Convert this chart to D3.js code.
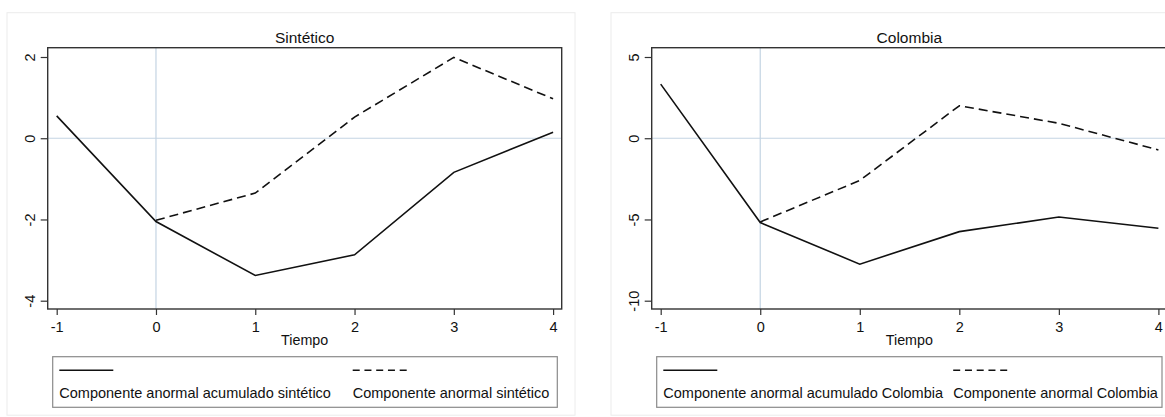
<!DOCTYPE html>
<html>
<head>
<meta charset="utf-8">
<script src="https://cdn.jsdelivr.net/npm/d3@7"></script>
<style>
  body { margin: 0; background: #fff; }
  svg text { font-family: "Liberation Sans", Arial, sans-serif; fill: #111; }
</style>
</head>
<body>
<script>
// data
var tiempo = [-1, 0, 1, 2, 3, 4];

var sintAcum = [0.55, -2.05, -3.38, -2.87, -0.84, 0.15];
var sintComp = [null, -2.02, -1.35, 0.52, 1.99, 0.97];

var colAcum = [3.33, -5.19, -7.75, -5.75, -4.85, -5.54];
var colComp = [null, -5.15, -2.6, 2.0, 0.92, -0.72];

var xTicks = [-1, 0, 1, 2, 3, 4];
var sintTicks = [-4, -2, 0, 2];
var colTicks = [-10, -5, 0, 5];

var titles = ["Sintético", "Colombia"];
var legendLabels = [
  ["Componente anormal acumulado sintético", "Componente anormal sintético"],
  ["Componente anormal acumulado Colombia", "Componente anormal Colombia"]
];

// panel layout
var panels = [
  { left: 0, acum: sintAcum, comp: sintComp, ticks: sintTicks, yDomain: [-4, 2],
    outerW: 568, plotW: 514, legW: 504.6, col2: 300 },
  { left: 604, acum: colAcum, comp: colComp, ticks: colTicks, yDomain: [-10, 5],
    outerW: 600, plotW: 515.3, legW: 505.3, col2: 296.5 }
];

var fmt = function(d) { return String(d); };

var svg = d3.select("body").append("svg")
  .attr("width", 1165)
  .attr("height", 417);

panels.forEach(function(p, i) {
  var g = svg.append("g").attr("transform", "translate(" + p.left + ",0)");

  // outer panel
  g.append("rect")
    .attr("x", 7).attr("y", 12.7)
    .attr("width", p.outerW).attr("height", 402.5)
    .attr("fill", "#fff")
    .attr("stroke", "#ececec");

  var px = 47.7, py = 47.7, ph = 261.3;

  var x = d3.scaleLinear().domain([-1, 4]).range([px + 9, px + p.plotW - 8.6]);
  var y = d3.scaleLinear().domain(p.yDomain).range([300.7, 57]);

  var plot = g.append("g");

  // reference lines
  plot.append("line")
    .attr("x1", px).attr("x2", px + p.plotW)
    .attr("y1", y(0)).attr("y2", y(0))
    .attr("stroke", "#c4d4e3").attr("stroke-width", 1.2);
  plot.append("line")
    .attr("x1", x(0)).attr("x2", x(0))
    .attr("y1", py).attr("y2", py + ph)
    .attr("stroke", "#c4d4e3").attr("stroke-width", 1.2);

  // series
  var line = d3.line()
    .defined(function(d) { return d[1] != null; })
    .x(function(d) { return x(d[0]); })
    .y(function(d) { return y(d[1]); });

  plot.append("path")
    .datum(d3.zip(tiempo, p.acum))
    .attr("d", line)
    .attr("fill", "none")
    .attr("stroke", "#111")
    .attr("stroke-width", 1.6);

  plot.append("path")
    .datum(d3.zip(tiempo, p.comp))
    .attr("d", line)
    .attr("fill", "none")
    .attr("stroke", "#111")
    .attr("stroke-width", 1.6)
    .attr("stroke-dasharray", "9,5");

  // frame
  g.append("rect")
    .attr("x", px).attr("y", py)
    .attr("width", p.plotW).attr("height", ph)
    .attr("fill", "none")
    .attr("stroke", "#333")
    .attr("stroke-width", 1.4);

  // axes
  var yAxis = g.append("g")
    .attr("transform", "translate(" + px + ",0)")
    .call(d3.axisLeft(y).tickValues(p.ticks).tickSize(7).tickFormat(fmt));
  yAxis.select(".domain").remove();
  yAxis.selectAll("line").attr("stroke", "#333").attr("stroke-width", 1.2);
  yAxis.selectAll("text")
    .attr("transform", "rotate(-90)")
    .attr("x", 0).attr("y", -12.5).attr("dy", 0)
    .attr("text-anchor", "middle")
    .style("font-size", "14.5px")
    .style("font-family", "'Liberation Sans', Arial, sans-serif")
    .attr("fill", "#111");

  var xAxis = g.append("g")
    .attr("transform", "translate(0," + (py + ph) + ")")
    .call(d3.axisBottom(x).tickValues(xTicks).tickSize(6).tickFormat(fmt));
  xAxis.select(".domain").remove();
  xAxis.selectAll("line").attr("stroke", "#333").attr("stroke-width", 1.2);
  xAxis.selectAll("text")
    .attr("y", 23).attr("dy", 0)
    .style("font-size", "14.5px")
    .style("font-family", "'Liberation Sans', Arial, sans-serif")
    .attr("fill", "#111");

  // title and axis title
  g.append("text")
    .attr("x", px + p.plotW / 2).attr("y", 42.7)
    .attr("text-anchor", "middle")
    .style("font-size", "15.5px")
    .text(titles[i]);

  g.append("text")
    .attr("x", px + p.plotW / 2).attr("y", 345)
    .attr("text-anchor", "middle")
    .style("font-size", "14.3px")
    .text("Tiempo");

  // legend
  var lx = 52.7, ly = 356.7;
  var leg = g.append("g").attr("transform", "translate(" + lx + "," + ly + ")");
  leg.append("rect")
    .attr("width", p.legW).attr("height", 50.6)
    .attr("fill", "#fff")
    .attr("stroke", "#8a8a8a")
    .attr("stroke-width", 1.2);

  [0, 1].forEach(function(k) {
    var cx = k == 0 ? 6.6 : p.col2;
    leg.append("line")
      .attr("x1", cx).attr("x2", cx + 54)
      .attr("y1", 13.5).attr("y2", 13.5)
      .attr("stroke", "#111")
      .attr("stroke-width", 1.6)
      .attr("stroke-dasharray", k == 0 ? null : "7,4.75");
    leg.append("text")
      .attr("x", cx).attr("y", 41.5)
      .style("font-size", "14.5px")
      .text(legendLabels[i][k]);
  });
});
</script>
</body>
</html>
